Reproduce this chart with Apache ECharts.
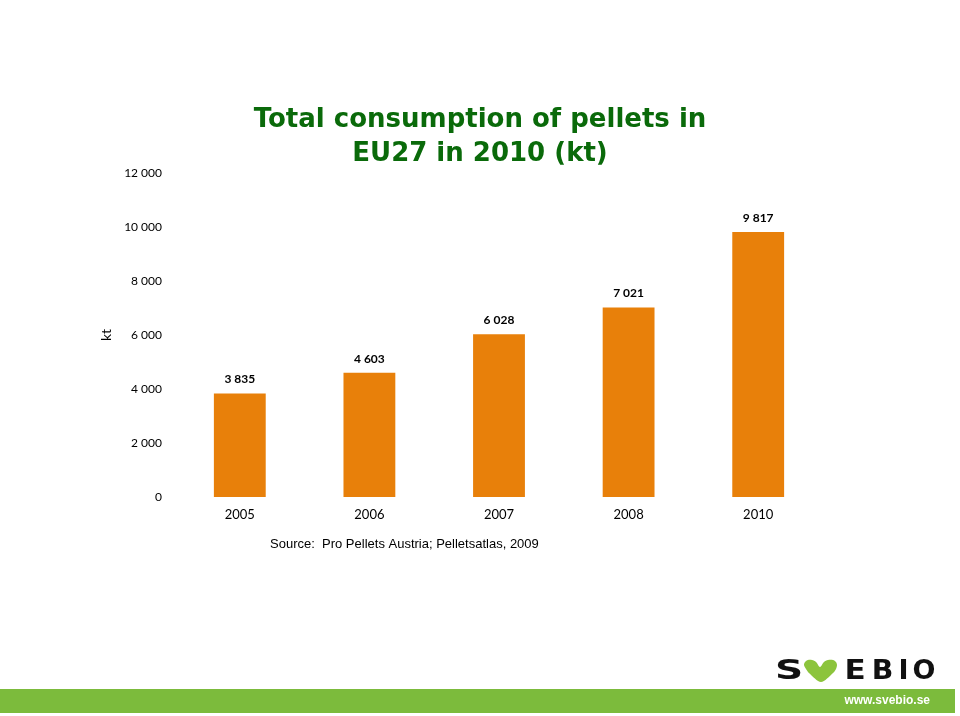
<!DOCTYPE html>
<html><head><meta charset="utf-8">
<script src="https://cdn.jsdelivr.net/npm/echarts@6/dist/echarts.min.js"></script>
<style>html,body{margin:0;padding:0;background:#fff}#c{width:960px;height:716px}</style>
</head><body><div id="c"></div>
<script>
const categories = ['2005', '2006', '2007', '2008', '2010'];
const consumption = [3835, 4603, 6028, 7021, 9817];
const yTicks = [0, 2000, 4000, 6000, 8000, 10000, 12000];

function fmt(v){ return String(v).replace(/\B(?=(\d{3})+(?!\d))/g, ' '); }

const chart = echarts.init(document.getElementById('c'), null, {renderer:'canvas'});
// [letter, centerX, scaleX]
const logoLetters = [['S',789,1.45],['E',855,1.15],['B',882.5,1.05],['I',903.5,1.0],['O',924,1.0]];
const heartPts = [[804,665],[805,662],[808,660],[812,660],[816,662],[820,667],[824,662],[828,660],[833,660],[836,662],[837,665],[836,669],[833,673],[821,682],[809,673],[806,669]];
const graphics = [
  {type:'text', left:'center', top:103, style:{text:'Total consumption of pellets in\nEU27 in 2010 (kt)', font:'bold 26px "DejaVu Sans"', fill:'#0a6a0a', textAlign:'center', lineHeight:34}},
  {type:'text', x:270, y:538, style:{text:'Source:  Pro Pellets Austria; Pelletsatlas, 2009', font:'13px "Liberation Sans"', fill:'#000'}},
  {type:'rect', shape:{x:0, y:689, width:955, height:24}, style:{fill:'#7cbb3c'}},
  {type:'text', x:930, y:701, style:{text:'www.svebio.se', font:'bold 12px "Liberation Sans Narrow", "Liberation Sans"', fill:'#fff', textAlign:'right', textVerticalAlign:'middle'}},
  {type:'polygon', shape:{points:heartPts, smooth:0.3}, style:{fill:'#8cc43c'}}
];
logoLetters.forEach(l => graphics.push({type:'text', x:l[1], y:672, scaleX:l[2],
  style:{text:l[0], font:'900 27px "DejaVu Sans"', fill:'#111', textAlign:'center', textVerticalAlign:'middle'}}));

chart.setOption({
  animation:false,
  backgroundColor:'#fff',
  grid:{left:175, right:137, top:173, bottom:219, containLabel:false},
  xAxis:{type:'category', data:categories, axisLine:{show:false}, axisTick:{show:false},
    axisLabel:{margin:11, fontFamily:'Lato', fontSize:13, color:'#000'}},
  yAxis:{type:'value', min:0, max:12000, interval:2000, splitLine:{show:false},
    axisLine:{show:false}, axisTick:{show:false},
    name:'kt', nameLocation:'middle', nameGap:55, nameRotate:90,
    nameTextStyle:{fontFamily:'Lato', fontSize:14, color:'#000'},
    axisLabel:{margin:13, fontFamily:'Lato', fontSize:12, color:'#000', formatter:v=>fmt(v)}},
  series:[{type:'bar', data:consumption, barWidth:'40%', itemStyle:{color:'#e8800a'},
    label:{show:true, position:'top', distance:8, fontFamily:'Lato', fontWeight:'bold', fontSize:12, color:'#000', formatter:p=>fmt(p.value)}}],
  graphic:graphics
});
</script></body></html>
